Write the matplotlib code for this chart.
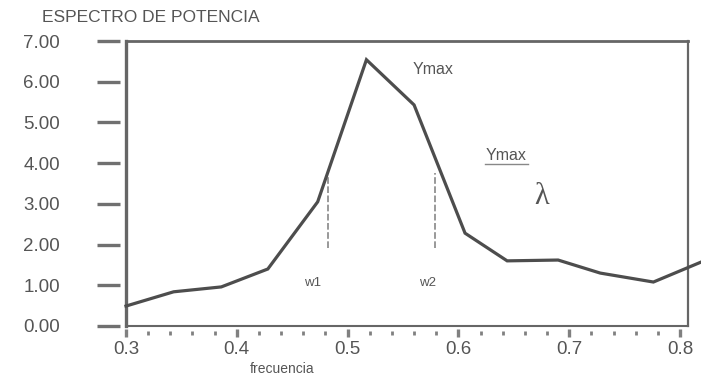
import matplotlib
matplotlib.use("Agg")
import matplotlib.pyplot as plt
from matplotlib.transforms import blended_transform_factory
import numpy as np

# ---- data ----
frecuencia = [0.300, 0.343, 0.386, 0.428, 0.473, 0.517, 0.560, 0.606, 0.644, 0.690, 0.728, 0.776, 0.819]
potencia   = [0.49, 0.84, 0.96, 1.40, 3.05, 6.54, 5.43, 2.28, 1.60, 1.62, 1.30, 1.08, 1.57]
y_ticks = [0, 1, 2, 3, 4, 5, 6, 7]
y_labels = ["0.00", "1.00", "2.00", "3.00", "4.00", "5.00", "6.00", "7.00"]
x_ticks = [0.3, 0.4, 0.5, 0.6, 0.7, 0.8]
x_labels = ["0.3", "0.4", "0.5", "0.6", "0.7", "0.8"]
x_minor = [round(0.3 + 0.02 * i, 2) for i in range(26)]
w_pos = [0.482, 0.579]
w_names = ["w1", "w2"]
w_label_x = [0.468, 0.5725]
w_top = [3.70, 3.75]
w_bottom = 1.92

plt.rcParams['font.family'] = ['Liberation Sans', 'DejaVu Sans']
W, H = 701, 379
fig = plt.figure(figsize=(W / 100, H / 100), dpi=100)
L, R, T, B = 126, 688, 41, 326
ax = fig.add_axes([L / W, 1 - B / H, (R - L) / W, (B - T) / H])

spine_col = "#666666"
line_col = "#4d4d4d"
text_col = "#555555"

ax.plot(frecuencia, potencia, color=line_col, lw=2.3, clip_on=False, solid_joinstyle="miter", zorder=3)

ax.set_xlim(0.3, 0.3 + (R - L) / 1108)
ax.set_ylim(0, 7)

for s, lw in [("left", 2.4), ("top", 2.0), ("right", 1.6), ("bottom", 1.5)]:
    ax.spines[s].set_color(spine_col)
    ax.spines[s].set_linewidth(lw)

ax.set_yticks(y_ticks, y_labels)
ax.set_xticks(x_ticks, x_labels)
ax.tick_params(axis="y", length=0, pad=66 * 0.72, labelsize=13.5, labelcolor=text_col)
ax.tick_params(axis="x", length=0, pad=15 * 0.72, labelsize=13.5, labelcolor=text_col)

aw, ah = R - L, B - T
ty = blended_transform_factory(ax.transAxes, ax.transData)
for yv in y_ticks:
    ax.plot([(97 - L) / aw, (120 - L) / aw], [yv, yv], transform=ty, color="#707070",
            lw=2.4, clip_on=False, solid_capstyle="butt")
tx = blended_transform_factory(ax.transData, ax.transAxes)
for xv in x_minor:
    major = any(abs(xv - m) < 1e-9 for m in x_ticks)
    y0, y1 = (-3 / ah, -11 / ah) if major else (-5 / ah, -9 / ah)
    ax.plot([xv, xv], [y0, y1], transform=tx, color="#808080",
            lw=2.4 if major else 2.0, clip_on=False, solid_capstyle="butt")

for xp, nm, tp, lx in zip(w_pos, w_names, w_top, w_label_x):
    ax.plot([xp, xp], [w_bottom, tp], color="#888888", lw=1.2, ls=(0, (4, 1.5)))
    ax.text(lx, 1.05, nm, fontsize=9.5, color=text_col, ha="center", va="center")

ax.text(0.577, 6.31, "Ymax", fontsize=11.5, color=text_col, ha="center", va="center")
ax.text(0.643, 4.18, "Ymax", fontsize=11.5, color=text_col, ha="center", va="center")
ax.plot([0.624, 0.663], [3.98, 3.98], color="#888888", lw=1.0)
ax.text(0.675, 3.19, "λ", fontsize=22, color="#555555", ha="center", va="center",
        family=["Liberation Serif", "DejaVu Serif"])

fig.text(42 / W, 1 - 18 / H, "ESPECTRO DE POTENCIA", fontsize=12.5, color=text_col,
         ha="left", va="center")
fig.text(282 / W, 1 - 369 / H, "frecuencia", fontsize=10, color=text_col,
         ha="center", va="center")

fig.savefig("out.png", dpi=100, facecolor="white")
